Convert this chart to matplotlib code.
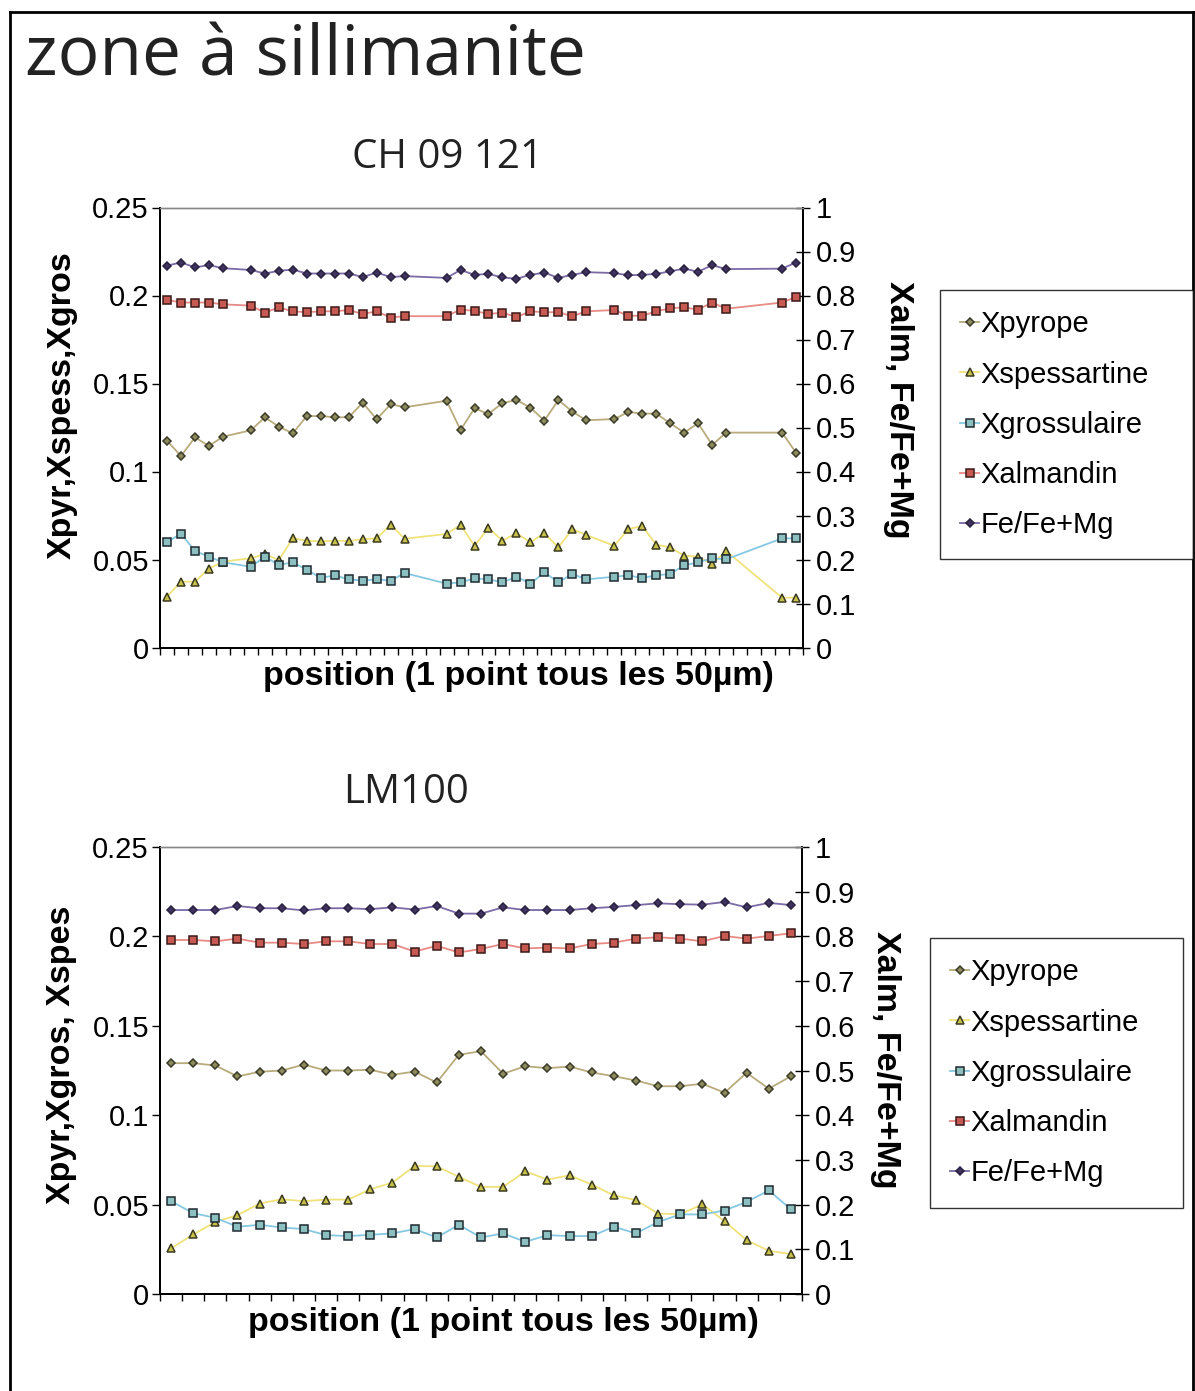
import matplotlib
matplotlib.use("Agg")
import matplotlib.pyplot as plt
from matplotlib.lines import Line2D

W, H = 1195, 1391

# ---- profile CH 09 121 (point numbers; some points missing) ----
top_pts = [0, 1, 2, 3, 4,
           6, 7, 8, 9, 10, 11, 12, 13, 14, 15, 16, 17,
           20, 21, 22, 23, 24, 25, 26, 27, 28, 29, 30,
           32, 33, 34, 35, 36, 37, 38, 39, 40,
           44, 45]
top_n = 46
top_fe = [.868, .875, .864, .869, .862,
          .858, .850, .856, .859, .850, .850, .850, .850, .842, .852, .842, .844,
          .840, .858, .847, .849, .841, .838, .847, .852, .840, .847, .853,
          .851, .846, .847, .849, .855, .861, .854, .869, .860,
          .861, .875]
top_alm = [.790, .784, .784, .784, .780,
           .777, .761, .773, .764, .762, .764, .764, .767, .758, .764, .750, .753,
           .753, .768, .765, .758, .761, .751, .764, .762, .762, .753, .764,
           .767, .754, .754, .764, .771, .773, .768, .784, .770,
           .784, .797]
top_pyr = [.1175, .1088, .1194, .1145, .1198,
           .1234, .1308, .1255, .1217, .1315, .1315, .1308, .1308, .1391, .1297, .1382, .1365,
           .1402, .1236, .1359, .1327, .1389, .1406, .1363, .1289, .1406, .1340, .1291,
           .1298, .1338, .1329, .1329, .1274, .1221, .1274, .1151, .1221,
           .1221, .1107]
top_spess = [.0289, .0374, .0374, .0448, .0488,
             .0507, .0531, .0497, .0620, .0607, .0603, .0607, .0605, .0616, .0620, .0698, .0618,
             .0645, .0696, .0578, .0679, .0607, .0649, .0598, .0649, .0569, .0673, .0639,
             .0578, .0673, .0690, .0584, .0569, .0522, .0516, .0474, .0548,
             .0283, .0283]
top_gros = [.0598, .0647, .0548, .0516, .0484,
            .0459, .0516, .0469, .0484, .0442, .0395, .0410, .0387, .0380, .0387, .0380, .0423,
            .0363, .0370, .0393, .0387, .0370, .0402, .0363, .0427, .0370, .0418, .0387,
            .0402, .0410, .0395, .0410, .0418, .0467, .0484, .0507, .0501,
            .0620, .0620]

# ---- profile LM100 ----
bot_pts = list(range(29))
bot_n = 29
bot_fe = [.859, .859, .859, .868, .863, .863, .858, .863, .863, .861, .865, .860, .868, .851,
          .851, .865, .859, .859, .859, .863, .866, .870, .874, .872, .871, .877, .865, .875, .870]
bot_alm = [.792, .792, .789, .795, .786, .786, .783, .789, .789, .783, .783, .766, .779, .764,
           .772, .783, .773, .775, .773, .783, .786, .795, .798, .795, .789, .801, .795, .801, .807]
bot_pyr = [.1291, .1291, .1278, .1217, .1243, .1250, .1283, .1250, .1250, .1254, .1226, .1244, .1183, .1338,
           .1358, .1232, .1274, .1263, .1272, .1239, .1218, .1194, .1162, .1162, .1176, .1126, .1237, .1148, .1218]
bot_spess = [.0255, .0333, .0403, .0441, .0506, .0530, .0519, .0528, .0528, .0586, .0623, .0716, .0714, .0655,
             .0599, .0599, .0686, .0640, .0664, .0612, .0552, .0525, .0450, .0446, .0502, .0407, .0301, .0242, .0223]
bot_gros = [.0519, .0452, .0426, .0376, .0387, .0372, .0363, .0329, .0324, .0331, .0339, .0363, .0316, .0387,
            .0316, .0339, .0292, .0329, .0324, .0324, .0376, .0339, .0403, .0445, .0445, .0467, .0515, .0579, .0474]

left_ticks = [0, 0.05, 0.1, 0.15, 0.2, 0.25]
left_labels = ["0", "0.05", "0.1", "0.15", "0.2", "0.25"]
right_ticks = [0, .1, .2, .3, .4, .5, .6, .7, .8, .9, 1]
right_labels = ["0", "0.1", "0.2", "0.3", "0.4", "0.5", "0.6", "0.7", "0.8", "0.9", "1"]
names = ["Xpyrope", "Xspessartine", "Xgrossulaire", "Xalmandin", "Fe/Fe+Mg"]

styles = {
    "Xpyrope": dict(color="#b8ab7c", marker="D", ms=4.5, mfc="#8d8a5c", mec="#3a3a28"),
    "Xspessartine": dict(color="#f0e27a", marker="^", ms=5.5, mfc="#c9c24a", mec="#3a3a20"),
    "Xgrossulaire": dict(color="#86c8e2", marker="s", ms=5.5, mfc="#8cc0c0", mec="#1f2a30"),
    "Xalmandin": dict(color="#e88a86", marker="s", ms=5.5, mfc="#c65a52", mec="#3a1a18"),
    "Fe/Fe+Mg": dict(color="#7a6aa6", marker="D", ms=4.5, mfc="#3f3360", mec="#2a2040"),
}

tick_font = dict(family="Liberation Sans", size=21)
lab_font = dict(family="Liberation Sans", size=24.5, weight="bold")


def fx(x):
    return x / W


def fy(y):
    return 1 - y / H


plt.rcParams["font.family"] = ["Liberation Sans", "DejaVu Sans"]
fig = plt.figure(figsize=(W / 100, H / 100), dpi=100)


def make_chart(x0, x1, ybot, ytop, n, pts, pyr, spess, gros, alm, fe):
    ax = fig.add_axes([fx(x0), fy(ybot), fx(x1) - fx(x0), fy(ytop) - fy(ybot)])
    ax2 = ax.twinx()
    handles = {}
    for name, vals, a in [("Xpyrope", pyr, ax), ("Xspessartine", spess, ax),
                          ("Xgrossulaire", gros, ax), ("Xalmandin", alm, ax2),
                          ("Fe/Fe+Mg", fe, ax2)]:
        s = styles[name]
        h, = a.plot(pts, vals, lw=1.3, color=s["color"], marker=s["marker"],
                    markersize=s["ms"], markerfacecolor=s["mfc"],
                    markeredgecolor=s["mec"], markeredgewidth=1.1, label=name)
        handles[name] = h
    ax.set_xlim(-0.5, n - 0.5)
    ax.set_ylim(0, 0.25)
    ax2.set_ylim(0, 1)
    ax.set_xticks([i - 0.5 for i in range(n + 1)])
    ax.set_xticklabels([])
    ax.tick_params(axis="x", direction="out", length=5, width=1)
    ax.set_yticks(left_ticks)
    ax.set_yticklabels(left_labels, **tick_font)
    ax.tick_params(axis="y", direction="out", length=6, width=1, pad=2)
    ax2.set_yticks(right_ticks)
    ax2.set_yticklabels(right_labels, **tick_font)
    ax2.tick_params(axis="y", direction="inout", length=10, width=1, pad=4)
    for a in (ax, ax2):
        a.spines["top"].set_color("#888888")
        a.spines["top"].set_linewidth(1)
        for sp in ("left", "right", "bottom"):
            a.spines[sp].set_linewidth(1.3)
    return ax, ax2, [handles[k] for k in names]


def add_legend(hs, x0, y0, x1, y1):
    leg = fig.legend(hs, names, loc="upper left",
                     bbox_to_anchor=(fx(x0), fy(y1), fx(x1) - fx(x0), fy(y0) - fy(y1)),
                     mode="expand", prop=dict(family="Liberation Sans", size=21),
                     frameon=True, fancybox=False, edgecolor="black",
                     handlelength=0.65, handletextpad=0.05,
                     labelspacing=0.76, borderpad=0.7, borderaxespad=0)
    leg.get_frame().set_linewidth(1.0)
    return leg


# outer frame
fig.add_artist(Line2D([fx(10), fx(10)], [fy(12), 0], color="black", lw=2))
fig.add_artist(Line2D([fx(10), fx(1193)], [fy(12), fy(12)], color="black", lw=2))
fig.add_artist(Line2D([fx(1193), fx(1193)], [fy(12), 0], color="black", lw=2))

fig.text(fx(25), fy(57), "zone à sillimanite", family="Open Sans", size=50,
         va="center", ha="left", color="#222222")

# chart 1
ax, ax2, hs = make_chart(160, 803, 647.5, 207.5, top_n, top_pts,
                         top_pyr, top_spess, top_gros, top_alm, top_fe)
fig.text(fx(448), fy(158), "CH 09 121", family="Open Sans", size=29,
         ha="center", va="center", color="#222222")
fig.text(fx(62), fy(405), "Xpyr,Xspess,Xgros", rotation=90, ha="center", va="center", **lab_font)
fig.text(fx(898), fy(410), "Xalm, Fe/Fe+Mg", rotation=-90, ha="center", va="center", **lab_font)
fig.text(fx(518), fy(676), "position (1 point tous les 50µm)", ha="center", va="center", **lab_font)
add_legend(hs, 940, 290, 1193, 553)

# chart 2
bx, bx2, hs2 = make_chart(160, 802, 1294, 847, bot_n, bot_pts,
                          bot_pyr, bot_spess, bot_gros, bot_alm, bot_fe)
fig.text(fx(406), fy(793), "LM100", family="Open Sans", size=29,
         ha="center", va="center", color="#222222")
fig.text(fx(62), fy(1055), "Xpyr,Xgros, Xspes", rotation=90, ha="center", va="center", **lab_font)
fig.text(fx(885), fy(1060), "Xalm, Fe/Fe+Mg", rotation=-90, ha="center", va="center", **lab_font)
fig.text(fx(503), fy(1322), "position (1 point tous les 50µm)", ha="center", va="center", **lab_font)
add_legend(hs2, 930, 938, 1183, 1202)

fig.savefig("out.png", dpi=100)
